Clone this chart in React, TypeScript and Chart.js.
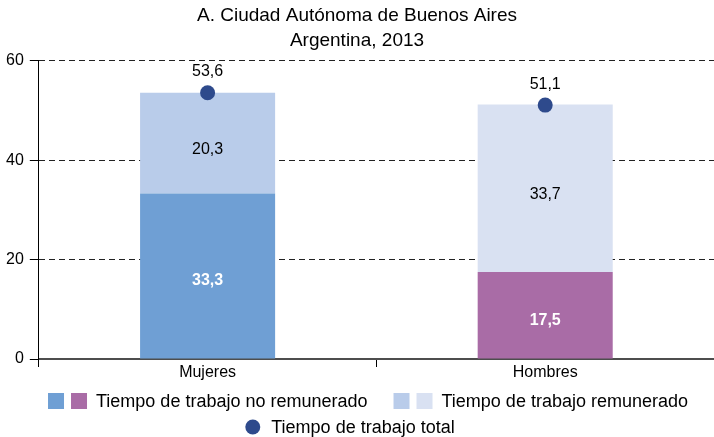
import React, { useEffect, useRef } from "react";
import { Chart, registerables } from "chart.js";

Chart.register(...registerables);

const categories = ["Mujeres", "Hombres"];
const noRemunerado = [33.3, 17.5];
const remunerado = [20.3, 33.7];
const total = [53.6, 51.1];
const yTicks = [0, 20, 40, 60];
const titleLines = ["A. Ciudad Autónoma de Buenos Aires", "Argentina, 2013"];
const legendNoRem = "Tiempo de trabajo no remunerado";
const legendRem = "Tiempo de trabajo remunerado";
const legendTotal = "Tiempo de trabajo total";

const noRemColors = ["#6F9FD4", "#A96CA6"];
const remColors = ["#B9CCEA", "#D9E1F2"];
const totalColor = "#2E4A8C";
const FONT = "'Liberation Sans', Arial, sans-serif";

const fmt = (v: number) => v.toFixed(1).replace(".", ",");

const labelsPlugin = {
  id: "valueLabels",
  afterDatasetsDraw(chart: any) {
    const ctx = chart.ctx;
    ctx.save();
    ctx.textAlign = "center";
    ctx.textBaseline = "middle";
    chart.data.datasets.forEach((ds: any, di: number) => {
      const meta = chart.getDatasetMeta(di);
      meta.data.forEach((el: any, i: number) => {
        const v = ds.data[i];
        if (di === 0) {
          ctx.fillStyle = "#ffffff";
          ctx.font = `bold 16px ${FONT}`;
          ctx.fillText(fmt(v), el.x, (el.y + el.base) / 2 + 5);
        } else if (di === 1) {
          ctx.fillStyle = "#000000";
          ctx.font = `16px ${FONT}`;
          ctx.fillText(fmt(v), el.x, (el.y + el.base) / 2 + 6);
        } else {
          ctx.fillStyle = "#000000";
          ctx.font = `16px ${FONT}`;
          ctx.fillText(fmt(v), el.x, el.y - 21);
        }
      });
    });
    ctx.restore();
  },
};

const legendPlugin = {
  id: "customLegend",
  afterDraw(chart: any) {
    const ctx = chart.ctx;
    const W = chart.width;
    ctx.save();
    ctx.font = `18px ${FONT}`;
    ctx.textBaseline = "middle";
    ctx.textAlign = "left";
    const sq = 16;
    const w1 = ctx.measureText(legendNoRem).width;
    const w2 = ctx.measureText(legendRem).width;
    const rowW = (sq + 7 + sq + 9) * 2 + w1 + w2 + 26;
    let x = (W - rowW) / 2 + 11;
    const y1 = 401;
    const drawPair = (cols: string[], text: string, w: number) => {
      ctx.fillStyle = cols[0];
      ctx.fillRect(x, y1 - sq / 2, sq, sq);
      ctx.fillStyle = cols[1];
      ctx.fillRect(x + sq + 7, y1 - sq / 2, sq, sq);
      ctx.fillStyle = "#000";
      ctx.fillText(text, x + 2 * sq + 7 + 9, y1 + 1);
      x += 2 * sq + 7 + 9 + w + 26;
    };
    drawPair(noRemColors, legendNoRem, w1);
    drawPair(remColors, legendRem, w2);

    const w3 = ctx.measureText(legendTotal).width;
    const r = 7.5;
    const row2W = 2 * r + 11 + w3;
    const x2 = (W - row2W) / 2 - 7;
    const y2 = 427;
    ctx.fillStyle = totalColor;
    ctx.beginPath();
    ctx.arc(x2 + r, y2, r, 0, Math.PI * 2);
    ctx.fill();
    ctx.fillStyle = "#000";
    ctx.fillText(legendTotal, x2 + 2 * r + 11, y2 + 1);
    ctx.restore();
  },
};

export default function App() {
  const ref = useRef<HTMLCanvasElement | null>(null);
  useEffect(() => {
    if (!ref.current) return;
    Chart.defaults.font.family = FONT;
    const chart = new Chart(ref.current, {
      type: "bar",
      data: {
        labels: categories,
        datasets: [
          {
            type: "bar",
            label: legendNoRem,
            data: noRemunerado,
            backgroundColor: noRemColors,
            stack: "a",
            order: 2,
            barPercentage: 0.4,
            categoryPercentage: 1,
          },
          {
            type: "bar",
            label: legendRem,
            data: remunerado,
            backgroundColor: remColors,
            stack: "a",
            order: 2,
            barPercentage: 0.4,
            categoryPercentage: 1,
          },
          {
            type: "line",
            label: legendTotal,
            data: total,
            showLine: false,
            pointRadius: 7.5,
            pointBackgroundColor: totalColor,
            pointBorderWidth: 0,
            borderColor: totalColor,
            stack: "b",
            order: 0,
          } as any,
        ],
      },
      options: {
        responsive: false,
        animation: false,
        layout: { autoPadding: false, padding: { left: 0, right: 0, top: 0, bottom: 48 } },
        plugins: {
          legend: { display: false },
          tooltip: { enabled: false },
          title: {
            display: true,
            text: titleLines,
            color: "#000",
            font: { size: 19, weight: "normal", family: FONT, lineHeight: 1.3 },
            padding: { top: 3.5, bottom: 8 },
          },
        },
        scales: {
          x: {
            stacked: true,
            offset: true,
            afterFit: (s: any) => {
              s.paddingLeft = 0;
              s.paddingRight = 0;
              s.height = 30;
            },
            grid: {
              display: true,
              drawOnChartArea: false,
              drawTicks: true,
              tickLength: 8,
              tickColor: "#000",
              offset: true,
            },
            border: { display: true, color: "#4d4d4d", width: 2 },
            ticks: { color: "#000", font: { size: 16, family: FONT }, padding: -4 },
          },
          y: {
            stacked: true,
            min: 0,
            max: 60,
            afterBuildTicks: (scale: any) => {
              scale.ticks = yTicks.map((v) => ({ value: v }));
            },
            grid: {
              display: true,
              color: "#222",
              lineWidth: 1,
              tickLength: 9,
              tickColor: "#000",
              tickBorderDash: [],
            },
            border: { display: true, color: "#000", width: 1, dash: [6, 4] },
            ticks: { color: "#000", font: { size: 16, family: FONT }, padding: 6 },
          },
        },
      },
      plugins: [labelsPlugin, legendPlugin],
    });
    return () => chart.destroy();
  }, []);
  return (
    <div style={{ position: "absolute", left: 0, top: 0, width: 714, height: 437, background: "#fff" }}>
      <canvas ref={ref} width={714} height={437} />
    </div>
  );
}
